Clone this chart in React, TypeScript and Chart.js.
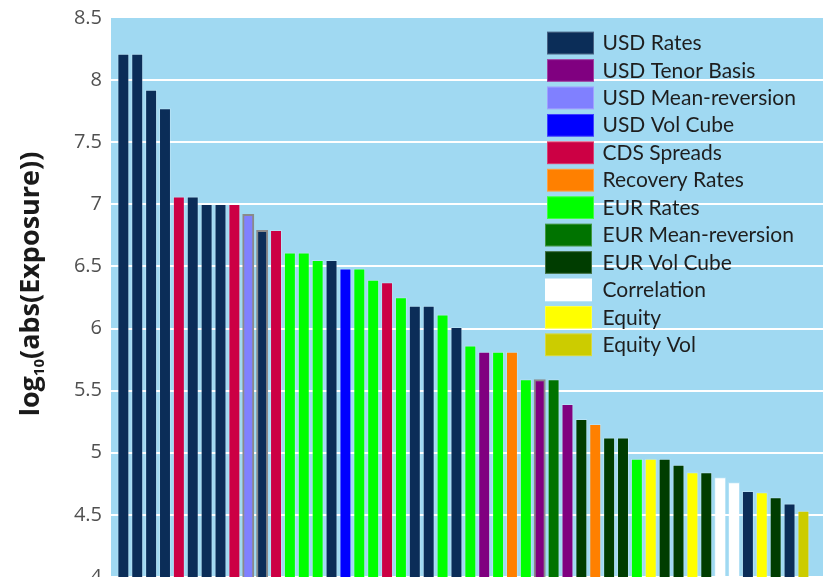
import { useEffect, useRef } from "react";
import { Chart, registerables } from "chart.js";

Chart.register(...registerables);

// Risk-factor groups shown in the legend, in legend order
const riskGroups = [
  "USD Rates",
  "USD Tenor Basis",
  "USD Mean-reversion",
  "USD Vol Cube",
  "CDS Spreads",
  "Recovery Rates",
  "EUR Rates",
  "EUR Mean-reversion",
  "EUR Vol Cube",
  "Correlation",
  "Equity",
  "Equity Vol",
];

const groupColors = [
  "#0b2d58",
  "#800080",
  "#8080ff",
  "#0000ff",
  "#cc0044",
  "#ff8000",
  "#00ff00",
  "#007300",
  "#003d00",
  "#ffffff",
  "#ffff00",
  "#cccc00",
];

// log10(|exposure|) of each risk factor, sorted from largest to smallest
const exposure = [
  8.21, 8.21, 7.92, 7.77, 7.06, 7.06, 7.0, 7.0, 7.0, 6.92,
  6.79, 6.79, 6.61, 6.61, 6.55, 6.55, 6.48, 6.48, 6.39, 6.37,
  6.25, 6.18, 6.18, 6.11, 6.01, 5.86, 5.81, 5.81, 5.81, 5.59,
  5.59, 5.59, 5.39, 5.27, 5.23, 5.12, 5.12, 4.95, 4.95, 4.95,
  4.9, 4.84, 4.84, 4.8, 4.76, 4.69, 4.68, 4.64, 4.59, 4.53,
];

// Group of each risk factor above
const exposureGroup = [
  "USD Rates", "USD Rates", "USD Rates", "USD Rates", "CDS Spreads",
  "USD Rates", "USD Rates", "USD Rates", "CDS Spreads", "USD Mean-reversion",
  "USD Rates", "CDS Spreads", "EUR Rates", "EUR Rates", "EUR Rates",
  "USD Rates", "USD Vol Cube", "EUR Rates", "EUR Rates", "CDS Spreads",
  "EUR Rates", "USD Rates", "USD Rates", "EUR Rates", "USD Rates",
  "EUR Rates", "USD Tenor Basis", "EUR Rates", "Recovery Rates", "EUR Rates",
  "USD Tenor Basis", "EUR Mean-reversion", "USD Tenor Basis", "EUR Vol Cube", "Recovery Rates",
  "EUR Vol Cube", "EUR Vol Cube", "EUR Rates", "Equity", "EUR Vol Cube",
  "EUR Vol Cube", "Equity", "EUR Vol Cube", "Correlation", "Correlation",
  "USD Rates", "Equity", "EUR Vol Cube", "USD Rates", "Equity Vol",
];

const yTicks = [4, 4.5, 5, 5.5, 6, 6.5, 7, 7.5, 8, 8.5];

const PLOT_BG = "#a0d9f2";
const LEGEND_FONT = "Lato, 'Open Sans', sans-serif";
const AXIS_FONT = "'Open Sans', 'Noto Sans', sans-serif";
// bars drawn with a grey outline
const OUTLINED_BARS = new Set([9, 10, 30]);

const plotBackground = {
  id: "plotBackground",
  beforeDraw(chart: any) {
    const { ctx, chartArea } = chart;
    ctx.save();
    ctx.fillStyle = PLOT_BG;
    ctx.fillRect(chartArea.left, chartArea.top, chartArea.right - chartArea.left, chartArea.bottom - chartArea.top);
    ctx.restore();
  },
};

// Rotated y-axis title with a subscripted "10"
const axisTitle = {
  id: "axisTitle",
  afterDraw(chart: any) {
    const { ctx } = chart;
    const big = `bold 27px ${AXIS_FONT}`;
    const small = `bold 15px ${AXIS_FONT}`;
    const parts = [
      { text: "log", font: big, dy: 0 },
      { text: "10", font: small, dy: 5 },
      { text: "(abs(Exposure))", font: big, dy: 0 },
    ];
    ctx.save();
    let total = 0;
    const widths = parts.map((p) => {
      ctx.font = p.font;
      const w = ctx.measureText(p.text).width;
      total += w;
      return w;
    });
    ctx.translate(39, 284);
    ctx.rotate(-Math.PI / 2);
    ctx.fillStyle = "#1a1a1a";
    ctx.textBaseline = "alphabetic";
    ctx.textAlign = "left";
    let x = -total / 2;
    parts.forEach((p, i) => {
      ctx.font = p.font;
      ctx.fillText(p.text, x, p.dy);
      x += widths[i];
    });
    ctx.restore();
  },
};

// Legend in the upper-right corner of the plot
const groupLegend = {
  id: "groupLegend",
  afterDraw(chart: any) {
    const { ctx } = chart;
    ctx.save();
    ctx.font = `21px ${LEGEND_FONT}`;
    ctx.textBaseline = "alphabetic";
    riskGroups.forEach((name, i) => {
      const top = 31.7 + i * 27.43;
      const bx = i >= 7 ? 545 : 547;
      ctx.fillStyle = groupColors[i];
      ctx.fillRect(bx, top, 47, 22.7);
      ctx.strokeStyle = "rgba(255,255,255,0.25)";
      ctx.lineWidth = 1;
      ctx.strokeRect(bx + 0.5, top + 0.5, 46, 21.7);
      ctx.fillStyle = "#1e1e1e";
      ctx.fillText(name, 602.5, top + 18.5);
    });
    ctx.restore();
  },
};

export default function App() {
  const canvasRef = useRef<HTMLCanvasElement | null>(null);

  useEffect(() => {
    const canvas = canvasRef.current;
    if (!canvas) return;
    const colorOf = (g: string) => groupColors[riskGroups.indexOf(g)];
    const chart = new Chart(canvas, {
      type: "bar",
      data: {
        datasets: [
          {
            label: "log10(abs(Exposure))",
            data: exposure.map((v, i) => ({ x: i, y: v })),
            backgroundColor: exposureGroup.map(colorOf),
            borderColor: exposureGroup.map((g, i) =>
              OUTLINED_BARS.has(i) ? "#8a8a8a" : "rgba(255,255,255,0.22)"
            ),
            borderWidth: exposureGroup.map((g, i) => (OUTLINED_BARS.has(i) ? 2 : 1)),
            borderSkipped: "bottom",
            barThickness: 11.3,
            grouped: false,
          } as any,
        ],
      },
      options: {
        animation: false,
        responsive: false,
        devicePixelRatio: 1,
        layout: { padding: { top: 18, bottom: 23, left: 0, right: 0 } },
        plugins: {
          legend: { display: false },
          tooltip: { enabled: false },
          title: { display: false },
        },
        scales: {
          x: {
            type: "linear",
            min: -0.89,
            max: 50.41,
            offset: false,
            display: false,
            grid: { display: false, offset: false },
          },
          y: {
            min: yTicks[0],
            max: yTicks[yTicks.length - 1],
            afterBuildTicks(scale: any) {
              scale.ticks = yTicks.map((v) => ({ value: v }));
            },
            afterFit(scale: any) {
              scale.width = 111;
              scale.paddingTop = 0;
              scale.paddingBottom = 0;
            },
            ticks: {
              color: "#505050",
              font: { family: AXIS_FONT, size: 20, lineHeight: 1 },
              padding: 9,
              callback: (v: any) => String(v),
            },
            grid: {
              color: (c: any) => (c.tick && c.tick.value === 8.5 ? "rgba(0,0,0,0)" : "#ffffff"),
              lineWidth: 2,
              drawTicks: false,
            },
            border: { display: false },
          },
        },
      },
      plugins: [plotBackground, axisTitle, groupLegend],
    });
    return () => chart.destroy();
  }, []);

  return (
    <div style={{ position: "fixed", left: 0, top: 0, width: 823, height: 577, overflow: "hidden", background: "#ffffff" }}>
      <canvas ref={canvasRef} width={823} height={600} style={{ display: "block", width: 823, height: 600 }} />
    </div>
  );
}
